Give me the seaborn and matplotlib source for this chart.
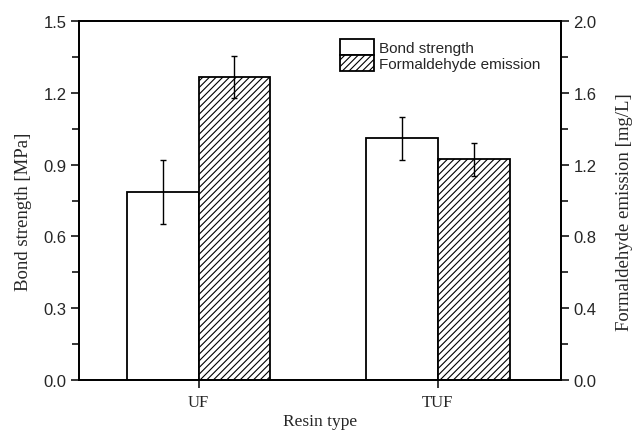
import matplotlib
matplotlib.use("Agg")
import matplotlib.pyplot as plt
import seaborn as sns
import pandas as pd
from matplotlib.ticker import MultipleLocator
from matplotlib.patches import Patch

resins = ["UF", "TUF"]
series = ["Bond strength", "Formaldehyde emission"]
bond_strength = [0.785, 1.01]        # MPa
bond_err = [0.135, 0.09]
fe_emission = [1.69, 1.23]           # mg/L
fe_err = [0.117, 0.093]

sns.set_theme(style="ticks")
plt.rcParams["hatch.linewidth"] = 0.8
plt.rcParams["hatch.color"] = "#333333"

fig = plt.figure(figsize=(6.37, 4.31), dpi=100)
ax = fig.add_axes([79/637, 50/431, (561-79)/637, (381-22)/431])
ax2 = ax.twinx()

df_b = pd.DataFrame({"Resin": resins, "val": bond_strength, "series": series[0]})
df_f = pd.DataFrame({"Resin": resins, "val": fe_emission, "series": series[1]})

sns.barplot(data=df_b, x="Resin", y="val", hue="series", hue_order=series,
            order=resins, ax=ax, width=0.6, dodge=True, palette=["white", "white"],
            edgecolor="black", linewidth=1.3, legend=False, errorbar=None, zorder=2)
sns.barplot(data=df_f, x="Resin", y="val", hue="series", hue_order=series,
            order=resins, ax=ax2, width=0.6, dodge=True, palette=["white", "white"],
            edgecolor="black", linewidth=1.3, legend=False, errorbar=None, zorder=2)
for p in ax2.patches:
    p.set_hatch("/////")

# error bars at bar centres
bx = [p.get_x() + p.get_width()/2 for p in ax.patches if p.get_height() > 0]
fx = [p.get_x() + p.get_width()/2 for p in ax2.patches if p.get_height() > 0]
ax.errorbar(bx, bond_strength, yerr=bond_err, fmt="none", ecolor="black",
            elinewidth=1.0, capsize=2.5, capthick=1.0, zorder=3)
ax2.errorbar(fx, fe_emission, yerr=fe_err, fmt="none", ecolor="black",
             elinewidth=1.0, capsize=2.5, capthick=1.0, zorder=3)

ax.set_xlim(-0.5, 1.515)
ax.set_ylim(0, 1.5)
ax2.set_ylim(0, 2.0)
ax.yaxis.set_minor_locator(MultipleLocator(0.15))
ax2.yaxis.set_minor_locator(MultipleLocator(0.2))
ax.set_yticks([0, 0.3, 0.6, 0.9, 1.2, 1.5])
ax.set_yticklabels(["0.0", "0.3", "0.6", "0.9", "1.2", "1.5"])
ax2.set_yticks([0, 0.4, 0.8, 1.2, 1.6, 2.0])
ax2.set_yticklabels(["0.0", "0.4", "0.8", "1.2", "1.6", "2.0"])

sans = "Liberation Sans"
serif = "Liberation Serif"
for a in (ax, ax2):
    for s in a.spines.values():
        s.set_linewidth(1.3)
        s.set_color("black")
    a.tick_params(axis="y", which="major", length=6, width=1.1, labelsize=12,
                  color="black", pad=3)
    a.tick_params(axis="y", which="minor", length=5, width=1.1, color="black")
    for t in a.get_yticklabels():
        t.set_fontfamily(sans)
ax.tick_params(axis="x", length=6, width=1.1, labelsize=12, color="black", pad=4)
for t in ax.get_xticklabels():
    t.set_fontfamily(serif)

ax.set_xlabel("Resin type", fontfamily=serif, fontsize=12.5, labelpad=2)
ax.set_ylabel("Bond strength [MPa]", fontfamily=serif, fontsize=13.5, labelpad=8)
ax2.set_ylabel("Formaldehyde emission [mg/L]", fontfamily=serif, fontsize=13.5, labelpad=14)
ax2.set_xlabel("")
ax.yaxis.label.set_y(0.47)
ax2.yaxis.label.set_y(0.47)

handles = [Patch(facecolor="white", edgecolor="black", linewidth=1.3, label=series[0]),
           Patch(facecolor="white", edgecolor="black", linewidth=1.3, hatch="/////", label=series[1])]
fig.legend(handles=handles, loc="upper left", bbox_to_anchor=(340/637, 1 - 40/431),
           frameon=False, prop={"family": sans, "size": 11}, handlelength=2.2,
           handleheight=1.25, handletextpad=0.35, labelspacing=0.0, borderaxespad=0,
           borderpad=0)

fig.savefig("out.png", dpi=100, facecolor="white")
